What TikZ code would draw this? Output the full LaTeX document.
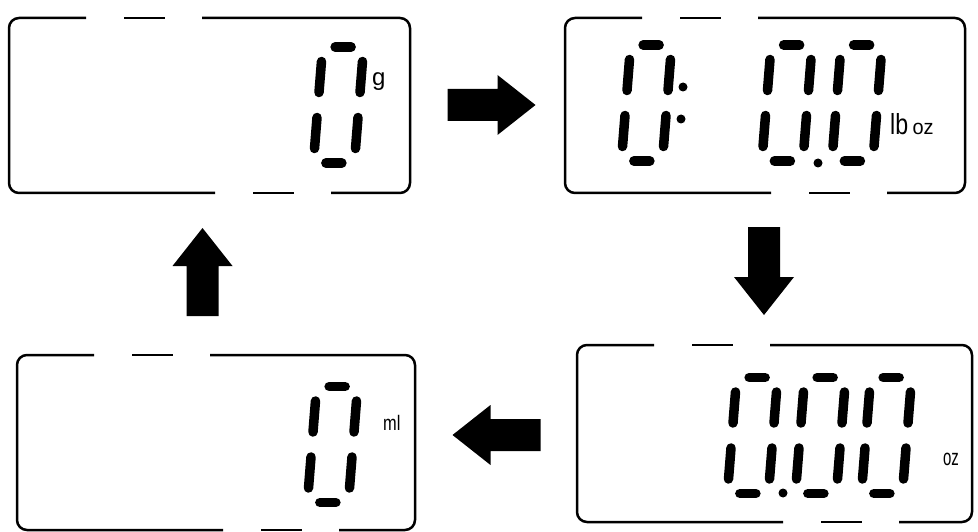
\documentclass[tikz,border=0pt]{standalone}
\usepackage{fontspec}
\setmainfont{Liberation Sans}
\usetikzlibrary{positioning}
\tikzset{lcd/.style={minimum width=400pt, minimum height=175pt, inner sep=0pt, outer sep=0pt}}
\tikzset{frame/.style={line width=2.5pt, rounded corners=10pt}}
\tikzset{seg/.style={line width=9.5pt, line cap=round}}
\tikzset{unit/.style={inner sep=0pt, anchor=base west}}
\tikzset{lcdzero/.pic={
    \draw[seg] (-8,-58) -- (8,-58);
    \draw[seg] (-8,58) -- (8,58);
    \foreach \sx in {-20.5,20.5} {
      \draw[seg] (\sx,-43.5) -- (\sx,-12.5);
      \draw[seg] (\sx,12.5) -- (\sx,43.5);
    }
  }}
\tikzset{blockarrow/.pic={
    \fill (-44,-16) -- (6,-16) -- (6,-30) -- (44,0) -- (6,30) -- (6,16) -- (-44,16) -- cycle;
  }}

\begin{document}
\begin{tikzpicture}[x=1pt, y=-1pt]
  \useasboundingbox (0,0) rectangle (978,532);
  % the four displays
  \node(gram) [lcd, minimum width=401pt] at (209.5,105.5) {};
  \node(lboz) [lcd] at (765,105.5) {};
  \node(ounce) [lcd, minimum width=395pt, minimum height=177pt] at (774.5,433.5) {};
  \node(ml) [lcd, minimum width=398pt] at (216,442.5) {};
  \foreach \b in {gram,lboz,ounce,ml} {
    \draw[frame] ([xshift=77pt]\b.north west) -- (\b.north west) -- (\b.south west) -- ([xshift=206pt]\b.south west);
    \draw[frame] ([xshift=193pt]\b.north west) -- (\b.north east) -- (\b.south east) -- ([xshift=322pt]\b.south west);
    \draw[frame] ([xshift=115pt]\b.north west) -- ([xshift=156pt]\b.north west);
    \draw[frame] ([xshift=244pt]\b.south west) -- ([xshift=285pt]\b.south west);
  }
  % digits
  \pic[xslant=0.08] at (338.5,105) {lcdzero};
  \pic[xslant=0.08] at (646.5,103) {lcdzero};
  \pic[xslant=0.08] at (787,103) {lcdzero};
  \pic[xslant=0.08] at (857,103) {lcdzero};
  \pic[xslant=0.08] at (752.5,435.5) {lcdzero};
  \pic[xslant=0.08] at (820.5,435.5) {lcdzero};
  \pic[xslant=0.08] at (886.5,435.5) {lcdzero};
  \pic[xslant=0.08] at (332.5,444.5) {lcdzero};
  \fill (683,87) circle (4.5) (681,119) circle (4.5) (818,163) circle (4.5);
  \fill (783,493) circle (4.5);
  % units
  \node(g) [unit, font=\fontsize{24}{24}\selectfont] at (372,86) {g};
  \node(lb) [unit, font=\fontsize{29}{29}\selectfont, xscale=0.8] at (890,135) {lb};
  \node(oz1) [unit, font=\fontsize{21}{21}\selectfont, xscale=0.95] at ([xshift=4pt]lb.base east) {oz};
  \node(oz2) [unit, font=\fontsize{23}{23}\selectfont, xscale=0.65] at (943,465) {oz};
  \node(mlu) [unit, font=\fontsize{21}{21}\selectfont, xscale=0.78] at (383,430) {ml};
  % arrows
  \pic at (491.5,105) {blockarrow};
  \pic[rotate=-90] at (764,271) {blockarrow};
  \pic[rotate=180] at (496.5,435) {blockarrow};
  \pic[rotate=90] at (202.5,272) {blockarrow};
\end{tikzpicture}
\end{document}
